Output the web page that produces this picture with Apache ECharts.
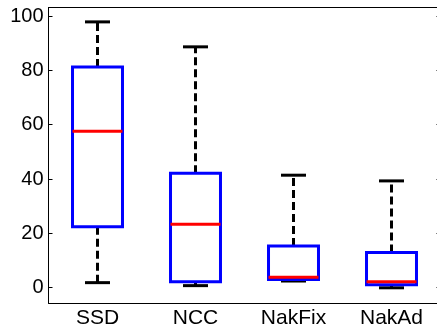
<!DOCTYPE html>
<html>
<head>
<meta charset="utf-8">
<script src="https://cdn.jsdelivr.net/npm/echarts@6/dist/echarts.min.js"></script>
<style>
html,body{margin:0;padding:0;background:#fff;}
#chart{width:437px;height:328px;}
</style>
</head>
<body>
<div id="chart"></div>
<script>
// box plot data
var categories = ['SSD', 'NCC', 'NakFix', 'NakAd'];
var whiskerLow  = [1.8, 0.7, 2.4, -0.1];
var quart1      = [22.4, 2.1, 3.0, 1.0];
var medians     = [57.6, 23.3, 3.8, 2.1];
var quart3      = [81.3, 42.1, 15.3, 12.9];
var whiskerHigh = [97.9, 88.7, 41.4, 39.3];
var yTicks = [0, 20, 40, 60, 80, 100];

var font = "'Liberation Sans', Arial, sans-serif";

var boxData = [];
for (var i = 0; i < categories.length; i++) {
    boxData.push([i, whiskerLow[i], quart1[i], medians[i], quart3[i], whiskerHigh[i]]);
}

function renderBox(params, api) {
    var idx = api.value(0);
    var band = api.size([1, 0])[0];
    var half = band * 0.255;
    var capHalf = half / 2;
    var lo = api.coord([idx, api.value(1)]);
    var q1 = api.coord([idx, api.value(2)]);
    var md = api.coord([idx, api.value(3)]);
    var q3 = api.coord([idx, api.value(4)]);
    var hi = api.coord([idx, api.value(5)]);
    var x = lo[0];
    var dashStyle = {stroke: '#000', lineWidth: 3, lineDash: [8, 4], fill: null};
    var solid = {stroke: '#000', lineWidth: 3, fill: null};
    return {
        type: 'group',
        children: [
            {type: 'line', shape: {x1: x, y1: q3[1], x2: x, y2: hi[1]}, style: dashStyle},
            {type: 'line', shape: {x1: x, y1: lo[1], x2: x, y2: q1[1]}, style: dashStyle},
            {type: 'line', shape: {x1: x - capHalf, y1: hi[1], x2: x + capHalf, y2: hi[1]}, style: solid},
            {type: 'line', shape: {x1: x - capHalf, y1: lo[1], x2: x + capHalf, y2: lo[1]}, style: solid},
            {type: 'rect', shape: {x: x - half, y: q3[1], width: half * 2, height: q1[1] - q3[1]},
                style: {stroke: '#0000ff', lineWidth: 3, fill: null}},
            {type: 'line', shape: {x1: x - half, y1: md[1], x2: x + half, y2: md[1]},
                style: {stroke: '#ff0000', lineWidth: 3}}
        ]
    };
}

var chart = echarts.init(document.getElementById('chart'));
var option = {
    backgroundColor: '#fff',
    animation: false,
    grid: {left: 48.5, top: 7.5, width: 392, height: 295.5, outerBoundsMode: 'none', containLabel: false},
    xAxis: [
        {
            type: 'category',
            data: categories,
            position: 'bottom',
            axisLine: {onZero: false, lineStyle: {color: '#000', width: 1}},
            axisTick: {inside: true, alignWithLabel: true, length: 4, lineStyle: {color: '#000'}},
            axisLabel: {color: '#000', fontSize: 21, fontFamily: font, margin: 5}
        },
        {
            type: 'category',
            data: categories,
            position: 'top',
            axisLine: {onZero: false, lineStyle: {color: '#000', width: 1}},
            axisTick: {inside: true, alignWithLabel: true, length: 4, lineStyle: {color: '#000'}},
            axisLabel: {show: false}
        }
    ],
    yAxis: [
        {
            type: 'value',
            min: -5.7,
            max: 103.2,
            position: 'left',
            splitLine: {show: false},
            axisLine: {show: true, onZero: false, lineStyle: {color: '#000', width: 1}},
            axisTick: {show: true, inside: true, length: 4, customValues: yTicks, lineStyle: {color: '#000'}},
            axisLabel: {color: '#000', fontSize: 20, fontFamily: font, margin: 5, customValues: yTicks}
        },
        {
            type: 'value',
            min: -5.7,
            max: 103.2,
            position: 'right',
            splitLine: {show: false},
            axisLine: {show: true, onZero: false, lineStyle: {color: '#000', width: 1}},
            axisTick: {show: true, inside: true, length: 4, customValues: yTicks, lineStyle: {color: '#000'}},
            axisLabel: {show: false}
        }
    ],
    series: [
        {
            type: 'custom',
            renderItem: renderBox,
            data: boxData,
            encode: {x: 0, y: [1, 2, 3, 4, 5]},
            clip: false,
            z: 5
        }
    ]
};
chart.setOption(option);
</script>
</body>
</html>
